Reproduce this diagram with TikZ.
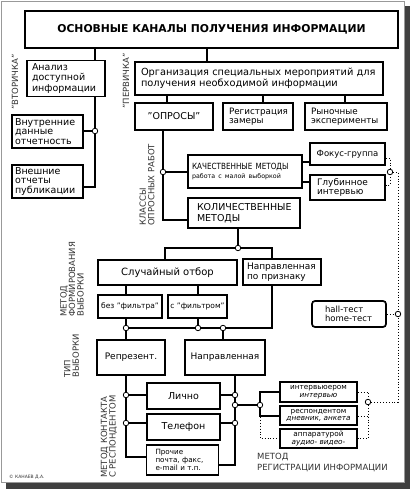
\documentclass[tikz,border=0pt]{standalone}
\usepackage{fontspec}
\setmainfont{DejaVu Sans}
\newfontfamily\condfont[FakeStretch=0.85]{DejaVu Sans}
\newcommand\myfs[2]{\fontsize{#1}{#2}\selectfont}
\begin{document}
\begin{tikzpicture}[x=1pt,y=-1pt,
  box/.style={draw, line width=1.7pt, inner sep=0pt, font=\myfs{9.5}{9.5}},
  conn/.style={line width=1.4pt},
  dotline/.style={dotted, line width=0.9pt},
  dot/.style={circle, draw, fill=white, line width=0.8pt, inner sep=0pt, minimum size=5.5pt},
  rlab/.style={rotate=90, align=left, anchor=west, text=black!80, inner sep=0pt, font=\myfs{8.5}{8.5}},
]
\useasboundingbox (0,0) rectangle (410,489);
% frame with shadow
\fill[black!75] (6,6) rectangle (409.5,488.5);
\filldraw[fill=white, draw=black!40, line width=0.6pt] (1.5,1.5) rectangle (404,482.5);

% boxes
\node[box, line width=1.8pt, minimum width=373, minimum height=37, font=\bfseries\myfs{10.8}{12}] (title) at (211.5,29.5) {ОСНОВНЫЕ КАНАЛЫ ПОЛУЧЕНИЯ ИНФОРМАЦИИ};

\node[box, align=left, inner xsep=5pt, text width=68, minimum height=36, font=\myfs{9.5}{10.5}] (anal) at (66,78.5) {Анализ\\доступной\\информации};
\node[box, align=left, inner xsep=3pt, text width=65, minimum height=33] (vnut) at (47.5,131.5) {Внутренние\\данные\\отчетность};
\node[box, align=left, inner xsep=3pt, text width=65, minimum height=33] (vnesh) at (47.5,181.5) {Внешние\\отчеты\\публикации};

\node[box, align=left, inner xsep=6pt, text width=236, minimum height=33, font=\myfs{9.8}{11}] (org) at (259,78.5) {Организация специальных мероприятий для\\получения необходимой информации};
\node[box, minimum width=78, minimum height=27] (opr) at (174,116.5) {"ОПРОСЫ"};
\node[box, align=left, inner xsep=6pt, text width=58, minimum height=27, font=\myfs{8.8}{9.5}] (reg) at (258,116.5) {Регистрация\\замеры};
\node[box, align=left, inner xsep=6pt, text width=70, minimum height=27, font=\myfs{8.8}{9.5}] (ryn) at (346,116.5) {Рыночные\\эксперименты};

\node[box, align=left, inner xsep=4pt, text width=106, minimum height=33] (kach) at (245,171.5) {{\condfont\myfs{8.5}{10}КАЧЕСТВЕННЫЕ МЕТОДЫ}\\{\myfs{6.3}{7}работа с малой выборкой}};
\node[box, minimum width=75, minimum height=22, font=\myfs{8.5}{9}] (fok) at (347.5,154) {Фокус-группа};
\node[box, align=left, inner xsep=7pt, text width=61, minimum height=25, font=\myfs{9}{9}] (glub) at (347.5,187.5) {Глубинное\\интервью};
\node[box, align=left, inner xsep=9pt, text width=94, minimum height=30, font=\myfs{9.5}{11}] (kol) at (244,213) {КОЛИЧЕСТВЕННЫЕ\\МЕТОДЫ};

\node[box, minimum width=139, minimum height=25, font=\myfs{10}{10}] (slu) at (167.5,272.5) {Случайный отбор};
\node[box, align=left, inner xsep=4pt, text width=70, minimum height=26, font=\myfs{9}{9.5}] (napr1) at (282,272) {Направленная\\по признаку};
\node[box, minimum width=64, minimum height=23, font=\myfs{7.5}{8}] (bez) at (130,306.5) {без "фильтра"};
\node[box, minimum width=59, minimum height=23, font=\myfs{7.5}{8}] (sf) at (197.5,306.5) {с "фильтром"};
\node[box, rounded corners=3pt, align=left, inner xsep=13pt, text width=48, minimum height=26, font=\myfs{8.5}{9.5}] (hall) at (349,314) {hall-тест\\home-тест};

\node[box, minimum width=68, minimum height=35, font=\myfs{9}{9}] (rep) at (131,357.5) {Репрезент.};
\node[box, minimum width=80, minimum height=35, font=\myfs{9}{9}] (napr2) at (225,357.5) {Направленная};
\node[box, minimum width=73, minimum height=26] (lich) at (183.5,396) {Лично};
\node[box, minimum width=73, minimum height=26] (tel) at (183.5,427) {Телефон};
\node[box, align=left, inner xsep=9pt, text width=54, minimum height=30, font=\myfs{7.2}{7.6}] (proch) at (182.5,460) {Прочие\\почта, факс,\\e-mail и т.п.};

\node[box, minimum width=77, minimum height=20, align=center, font=\myfs{7.3}{7.8}] (intv) at (318.5,392) {интервьюером\\\textit{интервью}};
\node[box, minimum width=77, minimum height=19, align=center, font=\myfs{7.3}{7.8}] (resp) at (318.5,415.5) {респондентом\\\textit{дневник, анкета}};
\node[box, minimum width=77, minimum height=19, align=center, font=\myfs{7.3}{7.8}] (app) at (318.5,438.5) {аппаратурой\\\textit{аудио- видео-}};

% rotated labels
\node[rlab, anchor=center] (vtor) at (15,82) {"ВТОРИЧКА"};
\node[rlab, anchor=center] (perv) at (126,81) {"ПЕРВИЧКА"};
\node[rlab] (klass) at (147,226) {КЛАССЫ\\ОПРОСНЫХ РАБОТ};
\node[rlab] (mform) at (72,317) {МЕТОД\\ФОРМИРОВАНИЯ\\ВЫБОРКИ};
\node[rlab] (tip) at (71.5,378) {ТИП\\ВЫБОРКИ};
\node[rlab] (mkont) at (109,478) {МЕТОД КОНТАКТА\\С РЕСПОНДЕНТОМ};
\node[align=left, anchor=north west, text=black!80, inner sep=0pt, font=\myfs{8.5}{10.5}] (mreg) at (257,453) {МЕТОД\\РЕГИСТРАЦИИ ИНФОРМАЦИИ};
\node[anchor=west, inner sep=0pt, text=black!80, font=\myfs{4.5}{5}] (copy) at (9,477) {© КАНАЕВ Д.А.};

% junction coordinates
\coordinate (c1) at (95,131);
\coordinate (c2) at (163,172);
\coordinate (c3) at (390,172);
\coordinate (c4) at (398,314);
\coordinate (c5) at (368,402);
\coordinate (c6) at (238,248);
\coordinate (c7) at (126,328);
\coordinate (c8) at (198,328);
\coordinate (c9) at (223,328);
\coordinate (c10) at (126,395);
\coordinate (c11) at (126,423);
\coordinate (c12) at (235,395);
\coordinate (c13) at (235,405);
\coordinate (c14) at (235,423);
\coordinate (c15) at (260,405);

% connectors
\draw[conn] (title.south -| 95,0) -- (anal.north -| 95,0);
\draw[conn] (title.south -| 207,0) -- (org.north -| 207,0);
\draw[conn] (anal.south -| 95,0) |- (vnesh.east |- 0,187);
\draw[conn] (c1) -- (vnut.east |- c1);
\draw[conn] (org.south -| 167,0) -- (opr.north -| 167,0);
\draw[conn] (org.south -| 263,0) -- (reg.north -| 263,0);
\draw[conn] (org.south -| 345,0) -- (ryn.north -| 345,0);
\draw[conn] (opr.south -| 163,0) |- (kol.west |- 0,220);
\draw[conn] (c2) -- (kach.west |- c2);
\draw[conn] (kach.east |- 0,162) -- (fok.west |- 0,162);
\draw[conn] (kach.east |- 0,182) -- (glub.west |- 0,182);
\draw[dotline] (fok.east |- 0,158) -| (c3) |- (glub.east |- 0,185);
\draw[dotline] (c3) -- (398,172) |- (c5);
\draw[dotline] (hall.east) -- (c4);
\draw[conn] (kol.south -| c6) -- (c6);
\draw[conn] (slu.north -| 165,0) -- (165,248) -- (272,248) -- (napr1.north -| 272,0);
\draw[conn] (slu.south -| c7) -- (bez.north -| c7);
\draw[conn] (slu.south -| c8) -- (sf.north -| c8);
\draw[conn] (bez.south -| c7) -- (rep.north -| c7);
\draw[conn] (sf.south -| c8) -- (c8);
\draw[conn] (c7) -- (272,328) -- (napr1.south -| 272,0);
\draw[conn] (c9) -- (napr2.north -| c9);
\draw[conn] (rep.south -| c10) |- (proch.west |- 0,457);
\draw[conn] (c10) -- (lich.west |- c10);
\draw[conn] (c11) -- (tel.west |- c11);
\draw[conn] (napr2.south -| c12) |- (proch.east |- 0,465);
\draw[conn] (c12) -- (lich.east |- c12);
\draw[conn] (c14) -- (tel.east |- c14);
\draw[conn] (c13) -- (c15);
\draw[conn] (intv.west |- 0,392) -| (c15) |- (resp.west |- 0,416);
\draw[dotline] (260,417) |- (app.west);
\draw[dotline] (intv.east |- 0,392) -| (c5) |- (app.east);
\draw[dotline] (resp.east |- 0,416) -- (368,416);

% junction dots
\foreach \c/\n in {c1/d1,c2/d2,c3/d3,c4/d4,c5/d5,c6/d6,c7/d7,c8/d8,c9/d9,c10/d10,c11/d11,c12/d12,c13/d13,c14/d14,c15/d15}
  \node[dot] (\n) at (\c) {};
\end{tikzpicture}
\end{document}
